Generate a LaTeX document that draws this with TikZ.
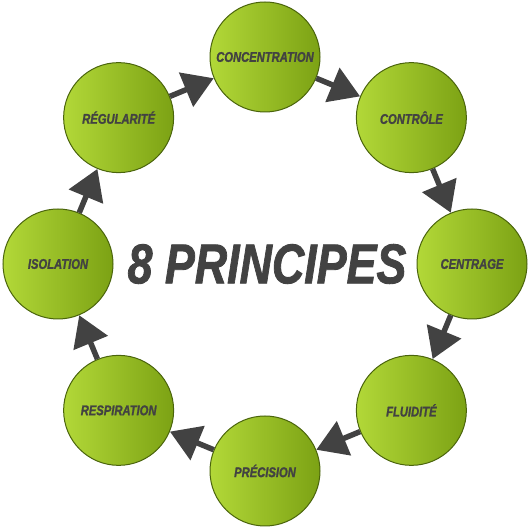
\documentclass[tikz,border=0pt]{standalone}
\usepackage{fontspec}
\setmainfont{Liberation Sans}
\newfontfamily\heavyfont{Liberation Sans}[BoldItalicFeatures={FakeBold=1.6}]
\usetikzlibrary{calc, arrows.meta}
\definecolor{leaflight}{HTML}{B2D838}
\definecolor{leafdark}{HTML}{7CA214}
\definecolor{leafrim}{HTML}{4A640C}
\definecolor{inkgray}{HTML}{424242}
\tikzset{
  principle/.style={circle, draw=leafrim, line width=1pt, minimum size=110pt, inner sep=0pt,
    left color=leaflight, right color=leafdark, text=inkgray,
    font=\heavyfont\fontsize{14}{14}\selectfont\bfseries\itshape},
  flow/.style={draw=inkgray, line width=5.5pt, -{Triangle[length=30pt, width=36pt]}},
  headline/.style={text=inkgray, font=\heavyfont\fontsize{56}{56}\selectfont\bfseries\itshape},
}
\newcommand{\squeeze}[1]{\scalebox{0.8}[1]{#1}}

\begin{document}
\begin{tikzpicture}[x=1pt, y=1pt]
  \useasboundingbox (0,0) rectangle (530,529);
  \coordinate (ring) at (265,265);

  % --- TITLE ---
  \node[headline] (head) at ($(ring)+(2,0)$) {\squeeze{8 PRINCIPES}};

  % --- PRINCIPLES (clockwise from top) ---
  \foreach \name/\lbl [count=\k from 0] in {conc/CONCENTRATION, ctrl/CONTRÔLE, centr/CENTRAGE,
      fluid/FLUIDITÉ, prec/PRÉCISION, resp/RESPIRATION, isol/ISOLATION, regul/RÉGULARITÉ} {
    \node[principle] (\name) at ($(ring)+(90-45*\k:207)$) {\squeeze{\lbl}};
  }

  % --- ARROWS ---
  \foreach \a/\b in {regul/conc, conc/ctrl, ctrl/centr, centr/fluid,
      fluid/prec, prec/resp, resp/isol, isol/regul} {
    \draw[flow] (\a) -- (\b);
  }
\end{tikzpicture}
\end{document}
